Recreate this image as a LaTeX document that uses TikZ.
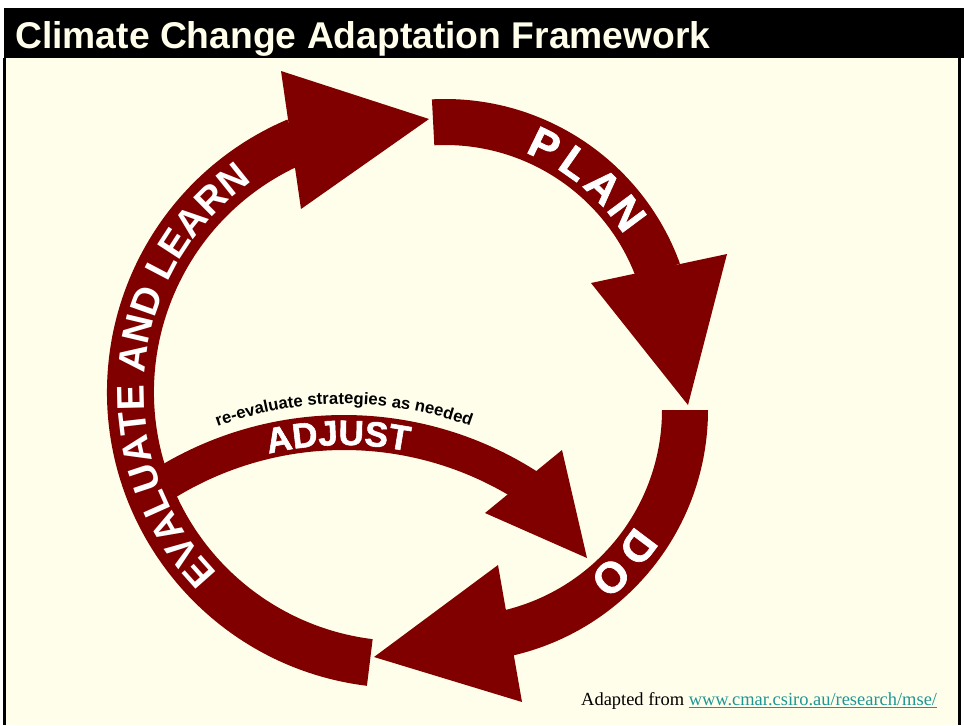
\documentclass[tikz,border=0pt]{standalone}
\usepackage{fontspec}
\setmainfont{Liberation Serif}
\newfontfamily\arialfont{Liberation Sans}
\newfontfamily\arialheavy{Liberation Sans}[BoldFeatures={FakeBold=1.6}]
\usetikzlibrary{calc,decorations.text}
\definecolor{cyclered}{HTML}{800000}
\definecolor{slidecream}{HTML}{FFFEEB}
\definecolor{linkteal}{HTML}{1E9696}
\newcommand{\stagefont}{\arialfont\bfseries\fontsize{22}{26}\selectfont}
\newcommand{\bigstagefont}{\arialheavy\bfseries\fontsize{24.5}{28}\selectfont}
\newcommand{\adjustfont}{\arialheavy\bfseries\fontsize{20}{24}\selectfont}
\newcommand{\notefont}{\arialfont\bfseries\fontsize{9.5}{12}\selectfont}
\tikzset{
  band/.style={fill=cyclered},
  stageletter/.style={text=white, font=\bigstagefont, inner sep=0pt},
}
\begin{document}
\begin{tikzpicture}[x=0.02cm, y=0.02cm]
                \useasboundingbox (0,0) rectangle (964,-725);
                \fill[white] (0,0) rectangle (964,-725);
                \fill[slidecream] (6,-58) rectangle (958,-725);
                \fill[black] (4,-8) rectangle (964,-58);
                \fill[black] (3,-58) rectangle (6,-725);
                \fill[black] (958,-58) rectangle (961,-725);
                \node[anchor=base west, text=slidecream, font=\arialfont\bfseries\fontsize{21.2}{25}\selectfont] (title) at (9,-48) {Climate Change Adaptation Framework};
                \coordinate (adjc) at (344,-773);
                \coordinate (evalc) at (403,-392);
                \coordinate (planc) at (445,-349);
                \coordinate (doc) at (456,-410);
                \fill[band] ($(adjc)+(125:358)$) arc[start angle=125, end angle=57, radius=358] -- ($(adjc)+(57:323)$) arc[start angle=57, end angle=125, radius=323] -- cycle;
                \fill[band] (562,-450) -- (587,-558) -- (485,-513) -- cycle;
                \fill[band] ($(evalc)+(-97:296)$) arc[start angle=-97, end angle=-247, radius=296] -- ($(evalc)+(-247:249)$) arc[start angle=-247, end angle=-97, radius=249] -- cycle;
                \fill[band] (281,-71) -- (429,-119) -- (301,-209) -- cycle;
                \fill[band] ($(planc)+(93:250)$) arc[start angle=93, end angle=20, radius=250] -- ($(planc)+(20:204)$) arc[start angle=20, end angle=93, radius=204] -- cycle;
                \fill[band] (591,-283) -- (727,-254) -- (688,-405) -- cycle;
                \fill[band] ($(doc)+(0:252)$) arc[start angle=0, end angle=-77, radius=252] -- ($(doc)+(-77:206)$) arc[start angle=-77, end angle=0, radius=206] -- cycle;
                \fill[band] (498,-565) -- (522,-702) -- (374,-657) -- cycle;
                \path[decorate, decoration={text along path, text align=center, text color=white, text={|\stagefont|EVALUATE AND LEARN}}] ($(evalc)+(-125:259)$) arc[start angle=-125, end angle=-245, radius=259];
                \foreach \ch/\ang [count=\i] in {P/64, L/54.9, A/45.8, N/36.7}
                    \node[stageletter, rotate=\ang-90] (plan\i) at ($(planc)+(\ang:227)$) {\ch};
                \foreach \ch/\ang [count=\i] in {D/-37, O/-47.2}
                    \node[stageletter, rotate=\ang-90] (do\i) at ($(doc)+(\ang:228)$) {\ch};
                \path[decorate, decoration={text along path, text align=center, text color=white, text={|\adjustfont|ADJUST}}] ($(adjc)+(121:328)$) arc[start angle=121, end angle=61, radius=328];
                \path[decorate, decoration={text along path, text align=center, text={|\notefont|re-evaluate strategies as needed}}] ($(adjc)+(115:369)$) arc[start angle=115, end angle=65, radius=369];
                \node[anchor=base west, font=\fontsize{10.5}{12}\selectfont] (credit) at (575,-705) {Adapted from \textcolor{linkteal}{\underline{www.cmar.csiro.au/research/mse/}}};
            \end{tikzpicture}
\end{document}
